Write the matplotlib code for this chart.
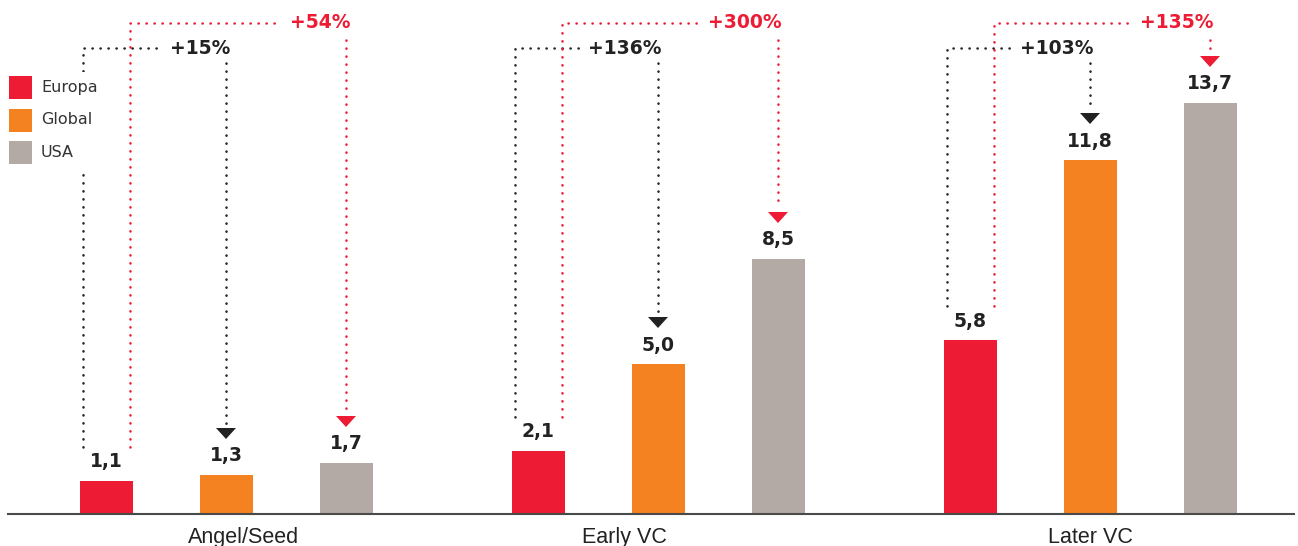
"""
Europa / Global / USA - Finanzierungsrunden (Mio.) mit Aufschlag-Klammern
"""
import numpy as np
import matplotlib
matplotlib.use('Agg')
import matplotlib.pyplot as plt
from matplotlib.patches import Polygon, Rectangle

# Daten
categories = ['Angel/Seed', 'Early VC', 'Later VC']
series = ['Europa', 'Global', 'USA']
europa = [1.1, 2.1, 5.8]
global_vals = [1.3, 5.0, 11.8]
usa = [1.7, 8.5, 13.7]
pct_global = ['+15%', '+136%', '+103%']   # Europa -> Global
pct_usa = ['+54%', '+300%', '+135%']      # Europa -> USA

# Farben
COLORS = {
    "Europa": "#ED1B34",
    "Global": "#F58220",
    "USA": "#B4AAA5",
    "text": "#222222",
    "axis": "#4A4A4A",
}

W, H = 1298, 546
BASE = 32            # Grundlinie, Pixel von unten
PX = 1 / 30.0        # Werteinheiten pro Pixel
GROUP_X0, GROUP_STEP = 226, 432
BAR_OFFSET, BAR_W = 120, 53
LABEL_SHIFT = [18, -34, 0]
TOP_BLACK = (H - BASE - 48) * PX
TOP_RED = (H - BASE - 23) * PX

fig = plt.figure(figsize=(W / 100, H / 100), dpi=100)
ax = fig.add_axes([0, 0, 1, 1])
ax.set_xlim(0, W)
ax.set_ylim(-BASE * PX, (H - BASE) * PX)
ax.axis('off')

group_x = GROUP_X0 + GROUP_STEP * np.arange(len(categories))
values = [europa, global_vals, usa]

# Balken + Werte
for i, (name, vals) in enumerate(zip(series, values)):
    xs = group_x + (i - 1) * BAR_OFFSET
    ax.bar(xs, vals, width=BAR_W, color=COLORS[name], zorder=2)
    for x, v in zip(xs, vals):
        ax.annotate(f'{v:.1f}'.replace('.', ','), xy=(x, v), xytext=(0, 19),
                    textcoords='offset pixels', ha='center', va='center',
                    fontsize=13.5, fontweight='bold', color=COLORS["text"])

ax.axhline(0, xmin=8 / W, xmax=1294 / W, color=COLORS["axis"], lw=1.5, zorder=3)

# Kategorien
for x, shift, cat in zip(group_x, LABEL_SHIFT, categories):
    ax.text(x + shift, -29 * PX, cat, ha='center', va='baseline',
            fontsize=15.5, family='Liberation Sans', color=COLORS["text"])

# Klammern mit Prozentwerten
dot = dict(lw=1.8, linestyle=(0, (0.1, 3.1)), dash_capstyle='round', zorder=1)
fig.canvas.draw()
inv = ax.transData.inverted()


def bracket(x_left, y_start, x_right, y_top, y_target, label, color, drop):
    t = ax.text(x_right + 4, y_top, label, ha='right', va='center',
                fontsize=13.5, fontweight='bold', color=color)
    bb = t.get_window_extent(renderer=fig.canvas.get_renderer())
    text_left = inv.transform((bb.x0, 0))[0]
    ax.plot([x_left, x_left, text_left - 10], [y_start, y_top, y_top], color=color, **dot)
    tip = y_target + 36 * PX
    tri_top = tip + 11 * PX
    ax.plot([x_right, x_right], [y_top - drop * PX, tri_top + 4 * PX], color=color, **dot)
    ax.add_patch(Polygon([(x_right - 10, tri_top), (x_right + 10, tri_top), (x_right, tip)],
                         closed=True, color=color, lw=0, zorder=2))


for g in range(len(categories)):
    ex = group_x[g] - BAR_OFFSET
    gx = group_x[g]
    ux = group_x[g] + BAR_OFFSET
    y0 = europa[g] + 34 * PX
    bracket(ex - 23.5, y0, gx, TOP_BLACK, global_vals[g], pct_global[g], COLORS["text"], 15)
    bracket(ex + 24, y0, ux, TOP_RED, usa[g], pct_usa[g], COLORS["Europa"], 17)

# Legende (Pixel, von oben links)
to_fig = lambda x, y: (x / W, 1 - y / H)
LEG_X, LEG_Y, SQ, PITCH = 9, 76, 23, 32.5
bg_x, bg_y = to_fig(LEG_X - 5, LEG_Y - 5 + 3 * PITCH)
fig.patches.append(Rectangle((bg_x, bg_y), 100 / W, (3 * PITCH - 1) / H,
                             transform=fig.transFigure, facecolor='white',
                             edgecolor='none', zorder=4))
for i, s in enumerate(series):
    top = LEG_Y + i * PITCH
    x0, y0 = to_fig(LEG_X, top + SQ)
    fig.patches.append(Rectangle((x0, y0), SQ / W, SQ / H, transform=fig.transFigure,
                                 facecolor=COLORS[s], edgecolor='none', zorder=5))
    tx, ty = to_fig(LEG_X + SQ + 9, top + SQ / 2)
    fig.text(tx, ty, s, ha='left', va='center', fontsize=11.5, color='#333333', zorder=6)

fig.savefig('out.png', dpi=100)
